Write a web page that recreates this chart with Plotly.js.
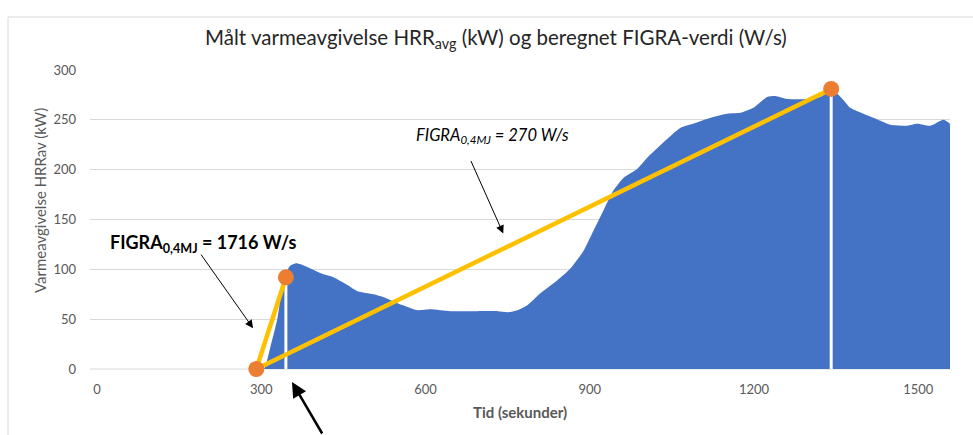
<!DOCTYPE html>
<html>
<head>
<meta charset="utf-8">
<script src="https://cdn.plot.ly/plotly-3.0.1.min.js"></script>
<style>html,body{margin:0;padding:0;background:#fff;}#chart{width:973px;height:435px;}</style>
</head>
<body>
<div id="chart"></div>
<script>
// Measured HRR (kW) over time (s)
const time = [295, 305, 318, 330, 341, 352, 363, 372, 385, 409, 432, 458, 476, 505, 524, 549, 573, 586, 609, 646, 695, 732, 750, 768, 786, 810, 841, 865, 889, 907, 925, 943, 962, 987, 1005, 1042, 1066, 1089, 1115, 1151, 1175, 1199, 1224, 1239, 1261, 1297, 1321, 1343, 1360, 1376, 1400, 1431, 1449, 1480, 1498, 1522, 1546, 1558];
const hrr  = [0, 0, 25, 52, 90, 103, 106, 105, 102, 96, 92, 84, 78, 75, 72, 66, 61, 59, 60, 58, 58, 58, 57, 59, 64, 76, 89, 101, 119, 139, 159, 179, 192, 201, 212, 231, 242, 246, 251, 256, 257, 262, 273, 274, 271, 271, 273, 280, 272, 262, 256, 249, 245, 244, 246, 244, 250, 246];

// FIGRA construction points
const figraT = [291, 345, 1341];
const figraV = [0, 92, 281];

const xTicks = [0, 300, 600, 900, 1200, 1500];
const yTicks = [0, 50, 100, 150, 200, 250, 300];

const titleText = 'Målt varmeavgivelse HRR<sub>avg</sub> (kW) og beregnet FIGRA-verdi (W/s)';
const yTitle = 'Varmeavgivelse HRRav (kW)';
const xTitle = 'Tid (sekunder)';
const label1 = '<b>FIGRA<sub>0,4MJ</sub> = 1716 W/s</b>';
const label2 = '<i>FIGRA<sub>0,4MJ</sub> = 270 W/s</i>';

const FONT = 'Lato, "Open Sans", sans-serif';

const traces = [
  {x: time, y: hrr, type: 'scatter', mode: 'lines', fill: 'tozeroy',
   line: {color: '#4472C4', width: 0, shape: 'spline', smoothing: 0.6},
   fillcolor: '#4472C4', hoverinfo: 'skip'},
  {x: [figraT[1], figraT[1]], y: [0, figraV[1]], type: 'scatter', mode: 'lines',
   line: {color: '#FFFFFF', width: 3}},
  {x: [figraT[2], figraT[2]], y: [0, figraV[2]], type: 'scatter', mode: 'lines',
   line: {color: '#FFFFFF', width: 3}},
  {x: [figraT[0], figraT[1]], y: [figraV[0], figraV[1]], type: 'scatter', mode: 'lines',
   line: {color: '#FFC000', width: 4.5}},
  {x: [figraT[0], figraT[2]], y: [figraV[0], figraV[2]], type: 'scatter', mode: 'lines',
   line: {color: '#FFC000', width: 4.5}},
  {x: figraT, y: figraV, type: 'scatter', mode: 'markers',
   marker: {color: '#ED7D31', size: 16}, cliponaxis: false}
];

const layout = {
  width: 973, height: 435,
  margin: {l: 90, r: 23, t: 70, b: 66},
  paper_bgcolor: '#FFFFFF', plot_bgcolor: '#FFFFFF',
  showlegend: false,
  font: {family: FONT, color: '#595959', size: 13},
  title: {text: titleText, font: {family: FONT, size: 20.5, color: '#262626'},
          x: 0.472, xref: 'paper', xanchor: 'center', y: 0.913, yanchor: 'middle'},
  xaxis: {range: [-12.8, 1558], tickvals: xTicks, ticktext: xTicks.map(String),
          showgrid: false, zeroline: false, showline: false, ticks: '',
          ticklabelstandoff: 11, tickfont: {size: 13, color: '#595959'}},
  yaxis: {range: [0, 300], tickvals: yTicks, ticktext: yTicks.map(String),
          showgrid: true, gridcolor: '#D9D9D9', gridwidth: 1, zeroline: false,
          showline: false, ticks: '', ticklabelstandoff: 13,
          tickfont: {size: 13, color: '#595959'}},
  shapes: [
    {type: 'rect', xref: 'paper', yref: 'paper', x0: -0.0953, x1: 1.2, y0: -0.5, y1: 1.1773,
     line: {color: '#D9D9D9', width: 1}, fillcolor: 'rgba(0,0,0,0)', layer: 'below'},
    {type: 'line', xref: 'paper', yref: 'paper', x0: 0, x1: 1, y0: 0, y1: 0,
     line: {color: '#D9D9D9', width: 1}, layer: 'below'}
  ],
  annotations: [
    {text: yTitle, xref: 'paper', yref: 'paper', x: -0.058, y: 0.562, textangle: -90,
     xanchor: 'center', yanchor: 'middle',
     showarrow: false, font: {family: FONT, size: 15, color: '#595959'}},
    {text: '<b>' + xTitle + '</b>', xref: 'paper', yref: 'paper', x: 0.5, y: -0.144,
     xanchor: 'center', yanchor: 'middle',
     showarrow: false, font: {family: FONT, size: 15, color: '#595959'}},
    {text: label1, x: 20, y: 126, xanchor: 'left', yanchor: 'middle', showarrow: false,
     font: {family: FONT, size: 18, color: '#000000'}},
    {text: label2, x: 579, y: 234, xanchor: 'left', yanchor: 'middle', showarrow: false,
     font: {family: FONT, size: 16.5, color: '#000000'}},
    {text: '', x: 285, y: 41, ax: -53, ay: -75, showarrow: true, arrowhead: 2,
     arrowsize: 1.6, arrowwidth: 1, arrowcolor: '#000000', standoff: 0},
    {text: '', x: 742, y: 136, ax: -33, ay: -74, showarrow: true, arrowhead: 2,
     arrowsize: 1.6, arrowwidth: 1, arrowcolor: '#000000', standoff: 0},
    {text: '', xref: 'paper', yref: 'paper', x: 0.2349, y: -0.0435, ax: 31, ay: 58,
     showarrow: true, arrowhead: 2, arrowsize: 1.2, arrowwidth: 2.5,
     arrowcolor: '#000000', standoff: 0}
  ]
};

Plotly.newPlot('chart', traces, layout, {displayModeBar: false, staticPlot: true});
</script>
</body>
</html>
